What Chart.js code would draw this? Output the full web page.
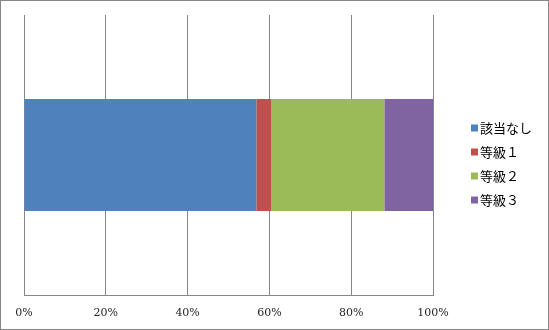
<!DOCTYPE html>
<html>
<head>
<meta charset="utf-8">
<script src="https://cdn.jsdelivr.net/npm/chart.js@4"></script>
<style>
  html, body { margin: 0; padding: 0; background: #fff; }
  #wrap { width: 549px; height: 330px; box-sizing: border-box; border: 1px solid #868686; position: relative; }
  #chart { display: block; }
</style>
</head>
<body>
<div id="wrap"><canvas id="chart" width="547" height="328"></canvas></div>
<script>
// ── データ ──
var categories = [''];
var seriesNames = ['該当なし', '等級１', '等級２', '等級３'];
var seriesValues = [[56.8], [3.7], [27.6], [11.9]];
var seriesColors = ['#4F81BD', '#C0504D', '#9BBB59', '#8064A2'];
var tickValues = [0, 20, 40, 60, 80, 100];

var datasets = seriesNames.map(function(name, i) {
  return {
    label: name,
    data: seriesValues[i],
    backgroundColor: seriesColors[i],
    borderWidth: 0,
    barPercentage: 0.4,
    categoryPercentage: 1
  };
});

// ── 凡例（右側） ──
var sideLegend = {
  id: 'sideLegend',
  afterDraw: function(chart) {
    var ctx = chart.ctx;
    ctx.save();
    ctx.font = '13px "Noto Sans CJK JP"';
    ctx.textBaseline = 'middle';
    ctx.textAlign = 'left';
    chart.data.datasets.forEach(function(ds, i) {
      var cy = 127 + i * 24;
      ctx.fillStyle = ds.backgroundColor;
      ctx.fillRect(470, cy - 3.5, 7, 7);
      ctx.fillStyle = '#000';
      ctx.fillText(ds.label, 479, cy);
    });
    ctx.restore();
  }
};

new Chart(document.getElementById('chart').getContext('2d'), {
  type: 'bar',
  data: { labels: categories, datasets: datasets },
  options: {
    indexAxis: 'y',
    responsive: false,
    animation: false,
    layout: { padding: { left: 23, right: 115, top: 14, bottom: 0 } },
    plugins: { legend: { display: false }, tooltip: { enabled: false } },
    scales: {
      x: {
        stacked: true,
        min: 0,
        max: 100,
        afterBuildTicks: function(scale) {
          scale.ticks = tickValues.map(function(v) { return { value: v }; });
        },
        afterFit: function(scale) { scale.height = 34; },
        grid: { color: '#868686', lineWidth: 1, drawTicks: false },
        border: { color: '#868686', width: 1 },
        ticks: {
          padding: 12,
          color: '#262626',
          font: { family: 'DejaVu Serif', size: 11 },
          maxRotation: 0,
          callback: function(v) { return v + '%'; }
        }
      },
      y: {
        stacked: true,
        display: false
      }
    }
  },
  plugins: [sideLegend]
});
</script>
</body>
</html>
